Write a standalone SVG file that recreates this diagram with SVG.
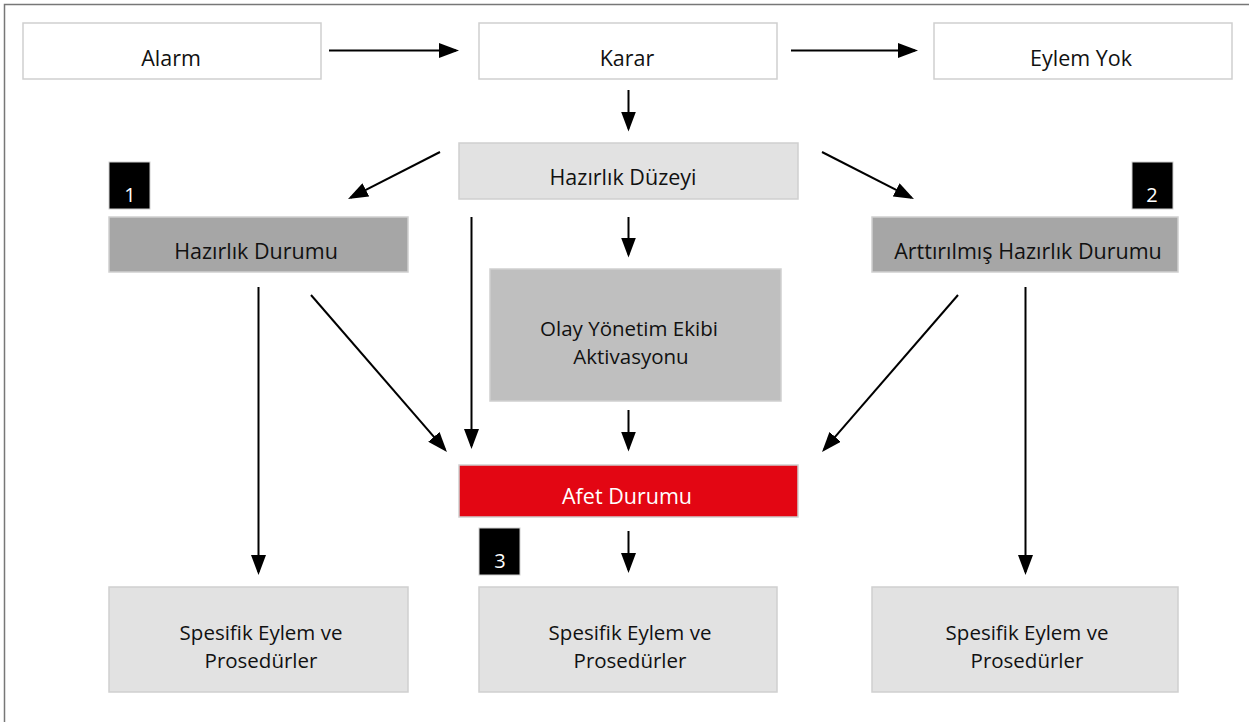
<svg xmlns="http://www.w3.org/2000/svg" width="1249" height="722" viewBox="0 0 1249 722">
  <style>
    .box { stroke: #cfcfcf; stroke-width: 1.5; }
    .white { fill: #ffffff; }
    .light { fill: #e2e2e2; }
    .mid { fill: #a6a6a6; }
    .soft { fill: #bfbfbf; }
    .red { fill: #e30613; }
    .badge { fill: #000000; stroke: #cfcfcf; stroke-width: 1; }
    text { font-family: "Open Sans", "Liberation Sans", sans-serif; font-size: 21.5px; fill: #111111; text-anchor: middle; }
    .two { font-size: 20.5px; }
    .inv { fill: #ffffff; }
    .num { font-size: 20px; fill: #ffffff; }
    .conn line { stroke: #000000; stroke-width: 2; marker-end: url(#head); }
  </style>
  <defs>
    <marker id="head" markerUnits="userSpaceOnUse" markerWidth="20" markerHeight="15" viewBox="0 0 20 15" refX="17" refY="7.5" orient="auto">
      <path d="M0,0 L20,7.5 L0,15 Z" fill="#000000"/>
    </marker>
  </defs>

  <rect width="1249" height="722" fill="#ffffff"/>
  <!-- outer frame -->
  <rect x="4.5" y="4.5" width="1270" height="740" fill="none" stroke="#777777" stroke-width="1.5"/>

  <g id="alarm">
    <rect class="box white" x="23" y="23" width="298" height="56"/>
    <text x="171" y="66">Alarm</text>
  </g>
  <g id="karar">
    <rect class="box white" x="479" y="23" width="298" height="56"/>
    <text x="627" y="66">Karar</text>
  </g>
  <g id="eylem-yok">
    <rect class="box white" x="934" y="23" width="298" height="56"/>
    <text x="1081" y="66">Eylem Yok</text>
  </g>

  <g id="hazirlik-duzeyi">
    <rect class="box light" x="459" y="143" width="339" height="56"/>
    <text x="623" y="185">Hazırlık Düzeyi</text>
  </g>

  <g id="badge-1">
    <rect class="badge" x="109" y="162" width="41" height="47"/>
    <text class="num" x="130" y="202">1</text>
  </g>
  <g id="badge-2">
    <rect class="badge" x="1132" y="162" width="41" height="47"/>
    <text class="num" x="1152" y="202">2</text>
  </g>
  <g id="badge-3">
    <rect class="badge" x="479" y="528" width="41" height="47"/>
    <text class="num" x="500" y="568">3</text>
  </g>

  <g id="hazirlik-durumu">
    <rect class="box mid" x="109" y="217" width="299" height="55"/>
    <text x="256" y="259">Hazırlık Durumu</text>
  </g>
  <g id="arttirilmis-hazirlik-durumu">
    <rect class="box mid" x="872" y="217" width="306" height="55"/>
    <text x="1028" y="259">Arttırılmış Hazırlık Durumu</text>
  </g>

  <g id="olay-yonetim-ekibi">
    <rect class="box soft" x="490" y="269" width="291" height="132"/>
    <text class="two" x="629" y="336">Olay Yönetim Ekibi</text>
    <text class="two" x="631" y="364">Aktivasyonu</text>
  </g>

  <g id="afet-durumu">
    <rect class="box red" x="459" y="465" width="339" height="52"/>
    <text class="inv" x="627" y="504">Afet Durumu</text>
  </g>

  <g id="spesifik-1">
    <rect class="box light" x="109" y="587" width="299" height="105"/>
    <text class="two" x="261" y="640">Spesifik Eylem ve</text>
    <text class="two" x="261" y="668">Prosedürler</text>
  </g>
  <g id="spesifik-2">
    <rect class="box light" x="479" y="587" width="298" height="105"/>
    <text class="two" x="630" y="640">Spesifik Eylem ve</text>
    <text class="two" x="630" y="668">Prosedürler</text>
  </g>
  <g id="spesifik-3">
    <rect class="box light" x="872" y="587" width="306" height="105"/>
    <text class="two" x="1027" y="640">Spesifik Eylem ve</text>
    <text class="two" x="1027" y="668">Prosedürler</text>
  </g>

  <g id="connectors" class="conn">
    <line x1="329" y1="50.5" x2="456" y2="50.5"/>
    <line x1="791" y1="50.5" x2="915" y2="50.5"/>
    <line x1="628.5" y1="90" x2="628.5" y2="128.5"/>
    <line x1="440" y1="152" x2="350.7" y2="197.6"/>
    <line x1="822" y1="152" x2="911.3" y2="197.6"/>
    <line x1="628.5" y1="217" x2="628.5" y2="254.5"/>
    <line x1="471.5" y1="217" x2="471.5" y2="446"/>
    <line x1="311" y1="295" x2="445" y2="449.7"/>
    <line x1="258.5" y1="287" x2="258.5" y2="572"/>
    <line x1="628.5" y1="410" x2="628.5" y2="448.5"/>
    <line x1="628.5" y1="531" x2="628.5" y2="570"/>
    <line x1="958" y1="295" x2="824" y2="449.7"/>
    <line x1="1025.5" y1="287" x2="1025.5" y2="572"/>
  </g>
</svg>
